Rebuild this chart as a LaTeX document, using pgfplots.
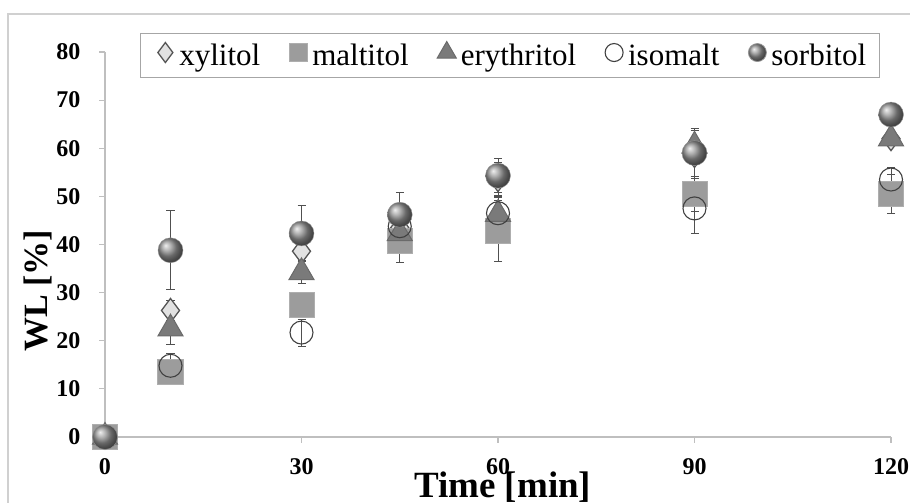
\documentclass[border=0pt]{standalone}
\usepackage{fontspec}
\setmainfont{Liberation Serif}
\usepackage{pgfplots}
\pgfplotsset{compat=1.18}
\usepackage{pgfplotstable}

% weight loss WL [%] with standard deviation, per polyol
\pgfplotstableread{
t y e
0 0 0
10 26.3 2.0
30 38.6 2.0
45 43.5 1.5
60 53.5 3.5
90 58.5 5.3
120 62.0 1.0
}\xylitol
\pgfplotstableread{
t y e
0 0 0
10 13.5 1.5
30 27.5 2.0
45 40.8 4.5
60 42.8 6.4
90 50.5 3.7
120 50.5 4.0
}\maltitol
\pgfplotstableread{
t y e
0 0 0
10 22.5 3.3
30 34.2 2.2
45 42.3 2.0
60 46.3 3.5
90 60.5 1.0
120 62.0 1.5
}\erythritol
\pgfplotstableread{
t y e
0 0 0
10 14.8 2.6
30 21.7 2.8
45 43.8 2.0
60 46.5 3.7
90 47.5 5.3
120 53.5 2.5
}\isomalt
\pgfplotstableread{
t y e
0 0 0
10 38.8 8.2
30 42.3 5.8
45 46.2 4.6
60 54.3 3.5
90 59.0 5.2
120 67.0 1.0
}\sorbitol

\definecolor{axisgray}{HTML}{BFBFBF}
\definecolor{framegray}{HTML}{D0D0D0}
\definecolor{errgray}{HTML}{505050}
\definecolor{xylfill}{HTML}{E2E2E2}
\definecolor{xyldraw}{HTML}{555555}
\definecolor{malfill}{HTML}{9C9C9C}
\definecolor{maldraw}{HTML}{AEAEAE}
\definecolor{eryfill}{HTML}{7A7A7A}
\definecolor{erydraw}{HTML}{6A6A6A}
\definecolor{isodraw}{HTML}{404040}
\definecolor{sorfill}{HTML}{959595}

% small legend markers and shared error bar look
\pgfplotsset{
  smallmark/.style={legend image code/.code={%
    \path[draw=none, fill=none] (0pt,-8pt) rectangle (26pt,8pt);
    \draw[##1, mark size=#1] plot coordinates {(14pt,0.3em)};}},
  errs/.style={
    error bars/y dir=both, error bars/y explicit, error bars/error mark=-,
    error bars/error bar style={draw=errgray, line width=0.9pt},
    error bars/error mark options={draw=errgray, line width=0.9pt, mark size=4pt, rotate=90}},
}

\begin{document}
\begin{tikzpicture}
\begin{axis}[
  at={(0pt,0pt)}, anchor=south west,
  scale only axis, width=786pt, height=385pt,
  xmin=0, xmax=120, ymin=0, ymax=80,
  axis x line=bottom, axis y line=left,
  axis line style={-, draw=axisgray, line width=1.2pt},
  xtick={0,30,60,90,120}, ytick={0,10,...,80},
  tick align=outside, major tick length=6pt,
  tick style={draw=axisgray, line width=1.2pt},
  /pgf/number format/assume math mode=true,
  ticklabel style={font=\fontsize{24}{26}\selectfont\bfseries},
  xticklabel style={yshift=-12pt},
  yticklabel style={xshift=-15pt},
  clip=false,
  xlabel={Time [min]}, ylabel={WL [\%]},
  xlabel style={font=\fontsize{37}{40}\selectfont\bfseries,
    at={(axis description cs:0.506,-0.158)}, anchor=base},
  ylabel style={font=\fontsize{34}{36}\selectfont\bfseries,
    at={(axis description cs:-0.085,0.38)}, anchor=center},
  legend columns=5,
  legend style={at={(axis description cs:0.0445,1.049)}, anchor=north west,
    draw=gray!70, line width=0.8pt, font=\fontsize{31}{34}\selectfont,
    inner ysep=8pt, inner xsep=11pt,
    /tikz/every even column/.append style={column sep=22pt}},
]
\addplot[only marks, mark=diamond*, mark size=12pt, errs,
  mark options={fill=xylfill, draw=xyldraw, line width=1.3pt}, smallmark=10pt]
  table[x=t, y=y, y error=e] {\xylitol};
\addlegendentry{xylitol}
\addplot[only marks, mark=square*, mark size=12.5pt, errs,
  mark options={fill=malfill, draw=maldraw, line width=1pt}, smallmark=9pt]
  table[x=t, y=y, y error=e] {\maltitol};
\addlegendentry{maltitol}
\addplot[only marks, mark=triangle*, mark size=14.5pt, errs,
  mark options={fill=eryfill, draw=erydraw, line width=1pt}, smallmark=11pt]
  table[x=t, y=y, y error=e] {\erythritol};
\addlegendentry{erythritol}
\addplot[only marks, mark=o, mark size=11.5pt, errs,
  mark options={draw=isodraw, line width=1.1pt}, smallmark=9pt]
  table[x=t, y=y, y error=e] {\isomalt};
\addlegendentry{isomalt}
\addplot[only marks, mark=ball, mark size=12.5pt, errs, color=sorfill,
  mark options={ball color=sorfill}, smallmark=9pt]
  table[x=t, y=y, y error=e] {\sorbitol};
\addlegendentry{sorbitol}
\end{axis}
\draw[framegray, line width=1.2pt] (-97pt,-70pt) -- (-97pt,423pt) -- (810pt,423pt);
\pgfresetboundingbox
\path[use as bounding box] (-105pt,-66pt) rectangle (805pt,437pt);
\end{tikzpicture}
\end{document}
